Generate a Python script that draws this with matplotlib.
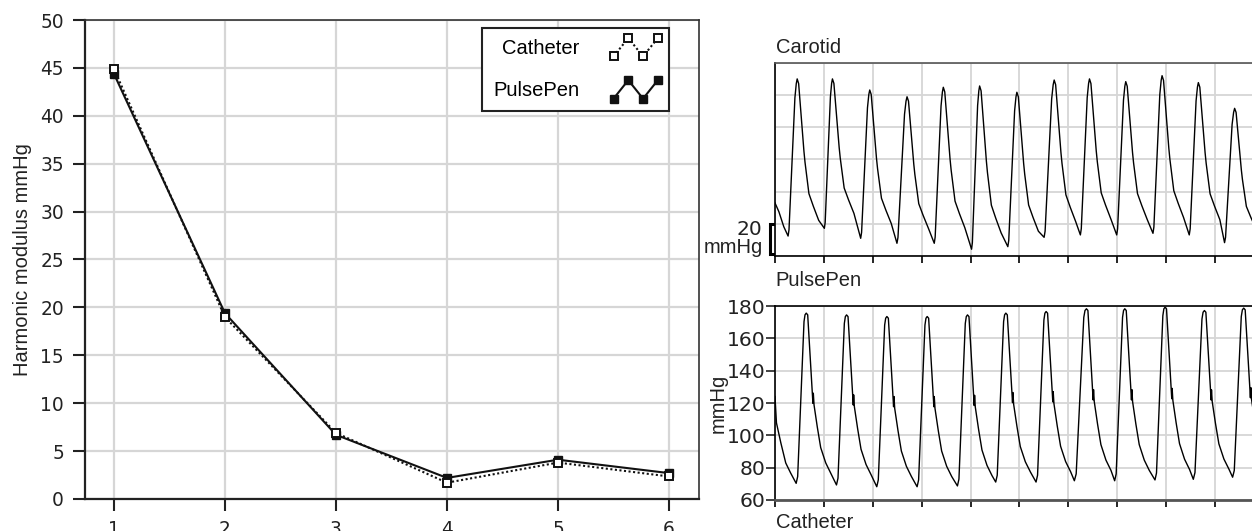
import numpy as np
import matplotlib
matplotlib.use('Agg')
import matplotlib.pyplot as plt
from matplotlib.lines import Line2D
from matplotlib.legend_handler import HandlerLine2D
import matplotlib.transforms as mtransforms

plt.rcParams['font.family'] = ['Liberation Sans', 'DejaVu Sans']

# Harmonic moduli (left panel)
harmonics = [1, 2, 3, 4, 5, 6]
catheter_mod = [44.9, 19.0, 6.9, 1.7, 3.8, 2.35]
pulsepen_mod = [44.4, 19.4, 6.7, 2.2, 4.1, 2.7]

# Carotid trace (top right) - beat key points, time in s, pressure in mmHg
car_lead_t = [0.0, 0.08, 0.18]
car_lead_v = [93.0, 87.5, 78.2]
car_foot_t = [0.268, 1.010, 1.753, 2.495, 3.258, 4.021, 4.763, 5.505, 6.247, 6.990, 7.732, 8.474, 9.196]
car_foot_v = [72.4, 77.2, 71.0, 67.9, 67.9, 64.2, 65.8, 71.6, 73.1, 73.1, 74.1, 73.1, 68.3]
car_peak_t = [0.454, 1.175, 1.938, 2.701, 3.443, 4.186, 4.948, 5.711, 6.433, 7.175, 7.918, 8.660, 9.402]
car_peak_v = [170.1, 170.1, 163.2, 159.0, 164.9, 165.7, 161.8, 169.4, 170.1, 168.4, 172.1, 167.8, 151.8]
car_up_frac = [0.1, 0.75, 0.9]
car_up_lv = [0.04, 0.88, 0.97]
car_dec_dt = [0.03, 0.138, 0.16, 0.24, 0.33, 0.44]
car_dec_lv = [0.97, 0.54, 0.47, 0.27, 0.19, 0.10]

# PulsePen trace (bottom right)
pp_lead_t = [0.0, 0.03, 0.12, 0.22, 0.32]
pp_lead_v = [124.0, 107.7, 95.3, 82.9, 76.7]
pp_foot_t = [0.433, 1.258, 2.082, 2.907, 3.732, 4.515, 5.340, 6.124, 6.948, 7.773, 8.557, 9.361]
pp_foot_v = [70.3, 69.3, 68.2, 68.2, 68.7, 71.1, 71.1, 71.9, 71.9, 72.4, 72.8, 74.1]
pp_peak_t = [0.639, 1.464, 2.289, 3.113, 3.938, 4.722, 5.546, 6.371, 7.155, 7.979, 8.784, 9.588]
pp_peak_v = [175.6, 174.5, 173.5, 173.5, 174.5, 175.6, 176.6, 178.3, 178.3, 179.3, 177.2, 178.7]
pp_up_frac = [0.15, 0.78, 0.88]
pp_up_lv = [0.04, 0.95, 0.99]
pp_dec_dt = [0.03, 0.137, 0.145, 0.16, 0.227, 0.296, 0.399, 0.502]
pp_dec_lv = [0.99, 0.47, 0.53, 0.46, 0.33, 0.21, 0.12, 0.06]

scale_bar = 20


def build_wave(lead_t, lead_v, foot_t, foot_v, peak_t, peak_v,
               up_frac, up_lv, dec_dt, dec_lv):
    t = list(lead_t)
    v = list(lead_v)
    for ft, fv, pt, pv in zip(foot_t, foot_v, peak_t, peak_v):
        amp = pv - fv
        t.append(ft)
        v.append(fv)
        for f, l in zip(up_frac, up_lv):
            t.append(ft + f * (pt - ft))
            v.append(fv + l * amp)
        t.append(pt)
        v.append(pv)
        for d, l in zip(dec_dt, dec_lv):
            t.append(pt + d)
            v.append(fv + l * amp)
    return np.array(t), np.array(v)


class ZigZagHandler(HandlerLine2D):
    def create_artists(self, legend, orig_handle, xdescent, ydescent,
                       width, height, fontsize, trans):
        xs = np.linspace(-xdescent, width - xdescent, 4)
        ys = np.array([0.0, 1.0, 0.0, 1.0]) * height * 1.2 - ydescent - 0.1 * height
        line = Line2D(xs, ys)
        self.update_prop(line, orig_handle, legend)
        line.set_transform(trans)
        return [line]


fig = plt.figure(figsize=(12.52, 5.31), dpi=100)

GRID = '#d6d6d6'
FS = 14.5
TICK_FONT = ['DejaVu Sans']
TXT = '#222222'

# Left panel
ax = fig.add_axes([0.0679, 0.0603, 0.4904, 0.902])
ax.set_axisbelow(True)
ax.grid(True, color=GRID, lw=1.6)
l_pp, = ax.plot(harmonics, pulsepen_mod, color='#111111', lw=1.5, marker='s',
                ms=6, mfc='#111111', mec='#111111', zorder=3)
l_ca, = ax.plot(harmonics, catheter_mod, color='#111111', lw=1.5, ls=(0, (1, 1.2)),
                marker='s', ms=6, mfc='white', mec='#111111', mew=1.4, zorder=4)
ax.set_xlim(0.74, 6.27)
ax.set_ylim(0, 50)
ax.set_xticks(harmonics)
ax.set_yticks(np.arange(0, 51, 5))
ax.tick_params(direction='out', length=8.6, width=1.5, pad=6.5, colors=TXT)
for lab in ax.get_xticklabels() + ax.get_yticklabels():
    lab.set_fontfamily(TICK_FONT)
    lab.set_fontsize(13.4)
ax.set_ylabel('Harmonic modulus mmHg', fontsize=FS, color=TXT, labelpad=6)
for s in ['left', 'bottom']:
    ax.spines[s].set_linewidth(1.6)
    ax.spines[s].set_color(TXT)
for s in ['top', 'right']:
    ax.spines[s].set_linewidth(1.2)
    ax.spines[s].set_color('#333333')

leg = ax.legend([l_ca, l_pp], ['Catheter', 'PulsePen'], loc='upper right',
                bbox_to_anchor=(0.951, 0.983), borderaxespad=0, markerfirst=False,
                handler_map={Line2D: ZigZagHandler()}, handlelength=2.2,
                handleheight=0.8, handletextpad=1.7, labelspacing=1.15,
                borderpad=0.55, fancybox=False, framealpha=1, edgecolor=TXT,
                fontsize=FS)
leg.get_frame().set_linewidth(1.5)

# Right panels
ax1 = fig.add_axes([0.619, 0.5179, 0.385, 0.3635])
ax2 = fig.add_axes([0.619, 0.0584, 0.385, 0.3653])

tc, vc = build_wave(car_lead_t, car_lead_v, car_foot_t, car_foot_v, car_peak_t,
                    car_peak_v, car_up_frac, car_up_lv, car_dec_dt, car_dec_lv)
tp, vp = build_wave(pp_lead_t, pp_lead_v, pp_foot_t, pp_foot_v, pp_peak_t,
                    pp_peak_v, pp_up_frac, pp_up_lv, pp_dec_dt, pp_dec_lv)

for a, (t, v) in zip([ax1, ax2], [(tc, vc), (tp, vp)]):
    a.set_axisbelow(True)
    a.grid(True, color=GRID, lw=1.3)
    a.plot(t, v, color='black', lw=1.0)
    a.set_xlim(0, 9.86)
    a.set_ylim(60, 180)
    a.set_xticks(np.arange(0, 10))
    a.set_yticks(np.arange(60, 181, 20))
    a.spines['right'].set_visible(False)
    a.tick_params(axis='x', direction='out', length=5, width=1.2, labelbottom=False)

ax1.tick_params(axis='y', length=0, labelleft=False)
ax1.spines['top'].set_color('#555555')
ax1.spines['top'].set_linewidth(1.2)
ax1.spines['left'].set_linewidth(1.2)
ax1.spines['bottom'].set_linewidth(1.2)

ax2.tick_params(axis='y', direction='out', length=6.5, width=1.2, pad=0.5, colors=TXT)
for lab in ax2.get_yticklabels():
    lab.set_fontfamily(TICK_FONT)
    lab.set_fontsize(14.7)
ax2.set_ylabel('mmHg', fontsize=FS, color=TXT, labelpad=-1)
ax2.spines['bottom'].set_color('#555555')
ax2.spines['bottom'].set_linewidth(2.0)
ax2.spines['top'].set_linewidth(1.2)
ax2.spines['left'].set_linewidth(1.2)

fig.text(0.6195, 1 - 53 / 531, 'Carotid', fontsize=FS, color=TXT, va='baseline')
fig.text(0.6195, 1 - 286 / 531, 'PulsePen', fontsize=FS, color=TXT, va='baseline')
fig.text(0.6195, 1 - 528 / 531, 'Catheter', fontsize=FS, color=TXT, va='baseline')

# 20 mmHg scale bar
tr = mtransforms.blended_transform_factory(ax1.transAxes, ax1.transData)
xb = -0.011
cap = 0.006
ax1.plot([xb + cap, xb, xb, xb + cap], [61, 61, 61 + scale_bar - 1, 61 + scale_bar - 1],
         transform=tr, color='black', lw=2.2, clip_on=False, solid_joinstyle='miter')
ax1.text(xb - 0.015, 61 + scale_bar - 8, '20', transform=tr, ha='right', va='baseline',
         fontsize=FS, color=TXT, family=TICK_FONT)
ax1.text(xb - 0.015, 62, 'mmHg', transform=tr, ha='right', va='baseline',
         fontsize=FS, color=TXT)

fig.savefig('out.png', dpi=100)
